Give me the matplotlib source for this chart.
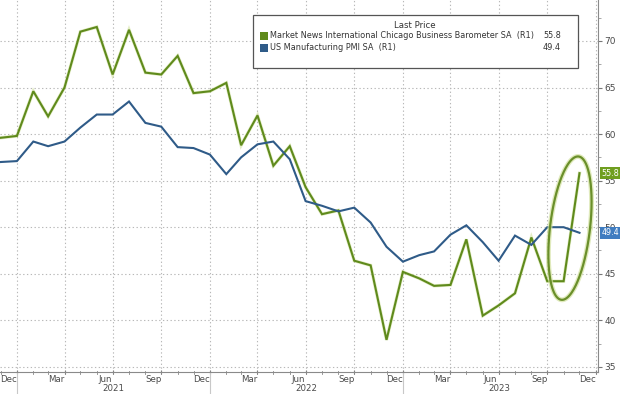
import numpy as np, pandas as pd
import matplotlib; matplotlib.use('Agg')
import matplotlib.pyplot as plt, matplotlib.dates as mdates
import matplotlib.transforms as mtrans
from matplotlib.patches import Rectangle

# monthly readings, Nov 2020 .. Nov 2023 (plotted at month end)
dates = pd.date_range('2020-11-30', periods=37, freq='ME')
chicago = [59.6, 59.8, 64.6, 61.9, 65.0, 71.0, 71.5, 66.4, 71.2, 66.6, 66.4, 68.4,
           64.4, 64.6, 65.5, 58.8, 62.0, 56.6, 58.7, 54.3, 51.4, 51.8, 46.4, 45.9,
           37.9, 45.2, 44.5, 43.7, 43.8, 48.7, 40.5, 41.6, 42.9, 48.9, 44.2, 44.2, 55.8]
pmi = [57.0, 57.1, 59.2, 58.7, 59.2, 60.7, 62.1, 62.1, 63.5, 61.2, 60.8, 58.6,
       58.5, 57.8, 55.7, 57.5, 58.9, 59.2, 57.3, 52.8, 52.3, 51.7, 52.1, 50.5,
       47.9, 46.3, 47.0, 47.4, 49.2, 50.2, 48.4, 46.4, 49.1, 48.1, 50.0, 50.0, 49.4]
names = ['Market News International Chicago Business Barometer SA  (R1)',
         'US Manufacturing PMI SA  (R1)']
yticks = [35, 40, 45, 50, 55, 60, 65, 70]
years = [2021, 2022, 2023]

GREEN, BLUE = '#5f8a1c', '#2f5b88'
TAG_G, TAG_B = '#6f9e1f', '#3f7cc0'
GRID, TXT = '#b8b8b8', '#4a4a4a'

plt.rcParams['font.family'] = ['DejaVu Sans']
fig = plt.figure(figsize=(6.2, 3.94), dpi=100, facecolor='white')
ax = fig.add_axes([0, 22/394, 598/620, 372/394])

ax.plot(dates, chicago, color='#c9dc8c', lw=2.4, alpha=0.5, solid_joinstyle='miter')
ax.plot(dates, chicago, color=GREEN, lw=1.5, solid_joinstyle='miter')
ax.plot(dates, pmi, color=BLUE, lw=1.5, solid_joinstyle='miter')

ax.set_xlim(pd.Timestamp('2020-11-29'), pd.Timestamp('2024-01-04'))
ax.set_ylim(34.45, 74.4)

# right-hand axis
ax.yaxis.tick_right()
ax.set_yticks(yticks)
ax.set_yticks(np.arange(37.5, 74, 5), minor=True)
ax.tick_params(axis='y', which='major', length=3, color='#777', labelsize=6.5, labelcolor=TXT, pad=1.5)
ax.tick_params(axis='y', which='minor', length=2, color='#999')
for s in ['left', 'top']: ax.spines[s].set_visible(False)
for s in ['right', 'bottom']: ax.spines[s].set_color('#8a8a8a'); ax.spines[s].set_linewidth(0.8)

# x axis: quarter-end gridlines, month names centred mid month
qends = pd.date_range('2020-12-31', '2023-12-31', freq='QE-DEC')
ax.set_xticks(qends)
ax.set_xticklabels([])
ax.tick_params(axis='x', which='major', length=3, color='#777', direction='inout')
mids = [d - pd.Timedelta(days=15) for d in qends]
ax.set_xticks(mids, minor=True)
ax.set_xticklabels([d.strftime('%b') for d in mids], minor=True)
ax.tick_params(axis='x', which='minor', length=0, labelsize=6.2, labelcolor=TXT, pad=2)
monthends = pd.date_range('2020-11-30', '2023-12-31', freq='ME')
tr = mtrans.blended_transform_factory(ax.transData, ax.transAxes)
for d in monthends:
    ax.plot([d, d], [-0.006, 0.004], color='#888', lw=0.6, transform=tr, clip_on=False)

ax.grid(True, which='major', axis='both', color=GRID, ls=(0, (1.2, 2.2)), lw=0.8)

for y in years:
    ax.text(pd.Timestamp(f'{y}-07-01'), -0.045, str(y), transform=tr, ha='center', va='center',
            fontsize=6.2, color=TXT)
    ax.plot([pd.Timestamp(f'{y}-01-01')]*2, [0, -0.06], color='#c8c8c8', lw=0.8,
            transform=tr, clip_on=False)

# last-value tags
for vals, col in [(chicago, TAG_G), (pmi, TAG_B)]:
    ax.annotate(f'{vals[-1]:.1f}', xy=(1, vals[-1]), xycoords=('axes fraction', 'data'),
                xytext=(2.5, 0), textcoords='offset points', ha='left', va='center',
                fontsize=5.8, color='white', annotation_clip=False, zorder=7,
                bbox=dict(boxstyle='square,pad=0.2', fc=col, ec='none'))

# ellipse around the latest jump
xc = mdates.date2num(pd.Timestamp('2023-11-12'))
yc, rx, ry, shear = 49.9, 38, 7.7, 15
t = np.linspace(0, 2*np.pi, 200)
ex = xc + rx*np.cos(t) + shear*np.sin(t)
ey = yc + ry*np.sin(t)
ax.plot(ex, ey, color='#d3e2a0', lw=3.5, alpha=0.7, clip_on=False)
ax.plot(ex, ey, color='#6a8f2a', lw=1.6, clip_on=False)

# legend box
x0, y0, w, h = 253/598, 1 - 68/372, 325/598, 53/372
ax.add_patch(Rectangle((x0, y0), w, h, transform=ax.transAxes, fc='white', ec='#555', lw=0.9, zorder=5))
ax.text(415/598, 1 - 26/372, 'Last Price', transform=ax.transAxes, ha='center', va='center',
        fontsize=6.2, color='#333', zorder=6)
for i, (nm, vals, col) in enumerate([(names[0], chicago, GREEN), (names[1], pmi, BLUE)]):
    yy = 1 - (36 + 12*i)/372
    ax.add_patch(Rectangle((260/598, yy - 4/372), 8/598, 8/372, transform=ax.transAxes,
                           fc=col, ec='none', zorder=6))
    ax.text(270/598, yy, nm, transform=ax.transAxes, va='center', fontsize=5.9, color='#333', zorder=6)
    ax.text(561/598, yy, f'{vals[-1]:.1f}', transform=ax.transAxes, va='center', ha='right',
            fontsize=5.9, color='#333', zorder=6)

fig.savefig('out.png', dpi=100, facecolor='white')
